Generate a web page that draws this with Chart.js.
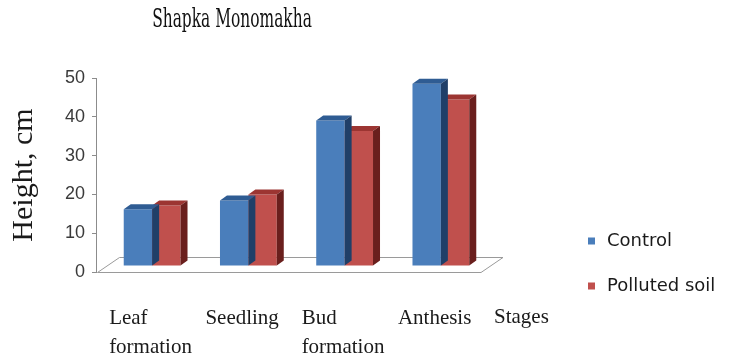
<!DOCTYPE html>
<html>
<head>
<meta charset="utf-8">
<script src="https://cdn.jsdelivr.net/npm/chart.js@4.4.1/dist/chart.umd.min.js"></script>
<style>
  html, body { margin: 0; padding: 0; background: #ffffff; }
  #wrap { width: 732px; height: 358px; position: relative; }
</style>
</head>
<body>
<div id="wrap"><canvas id="chart" width="732" height="358"></canvas></div>
<script>
// Plant height by growth stage, control vs polluted soil
const chartTitle = 'Shapka Monomakha';
const stages = [['Leaf', 'formation'], 'Seedling', ['Bud', 'formation'], 'Anthesis'];
const stageAxisName = 'Stages';
const seriesNames = ['Control', 'Polluted soil'];
const controlHeights = [14.6, 16.9, 37.5, 47.0];
const pollutedHeights = [15.6, 18.4, 34.8, 42.9];
const yTicks = [0, 10, 20, 30, 40, 50];

// face shades for the pseudo-3D columns
const faceColors = [
  { front: '#4a7ebb', top: '#2f5c93', side: '#203f68' },
  { front: '#c0504d', top: '#9c3532', side: '#6a1f1d' }
];

const depth = { shiftX: 8, shiftY: 6, barX: 7, barY: 5, floorX: 22, floorY: 15 };

const pseudo3d = {
  id: 'pseudo3d',
  beforeDatasetsDraw(chart) {
    const { ctx, chartArea: a } = chart;
    ctx.save();
    ctx.strokeStyle = '#9a9a9a';
    ctx.lineWidth = 1;
    ctx.beginPath();
    ctx.moveTo(a.left + 1.5, a.bottom + 0.5);
    ctx.lineTo(a.left + 1.5 + depth.floorX, a.bottom - depth.floorY + 0.5);
    ctx.lineTo(a.right + depth.floorX, a.bottom - depth.floorY + 0.5);
    ctx.lineTo(a.right, a.bottom + 0.5);
    ctx.closePath();
    ctx.stroke();
    ctx.restore();
  },
  beforeDatasetDraw(chart) {
    chart.ctx.save();
    chart.ctx.translate(depth.shiftX, -depth.shiftY);
  },
  afterDatasetDraw(chart, args) {
    const ctx = chart.ctx;
    const shade = faceColors[args.index];
    args.meta.data.forEach(bar => {
      const { x, y, base, width } = bar.getProps(['x', 'y', 'base', 'width'], true);
      const l = x - width / 2, r = x + width / 2;
      ctx.fillStyle = shade.top;
      ctx.beginPath();
      ctx.moveTo(l, y);
      ctx.lineTo(l + depth.barX, y - depth.barY);
      ctx.lineTo(r + depth.barX, y - depth.barY);
      ctx.lineTo(r, y);
      ctx.closePath();
      ctx.fill();
      ctx.fillStyle = shade.side;
      ctx.beginPath();
      ctx.moveTo(r, y);
      ctx.lineTo(r + depth.barX, y - depth.barY);
      ctx.lineTo(r + depth.barX, base - depth.barY);
      ctx.lineTo(r, base);
      ctx.closePath();
      ctx.fill();
    });
    ctx.restore();
  },
  afterDraw(chart) {
    const { ctx, chartArea: a } = chart;
    ctx.save();
    // title
    ctx.fillStyle = '#111';
    ctx.font = '26px "DejaVu Serif Condensed", "DejaVu Serif", serif';
    ctx.textAlign = 'center';
    ctx.textBaseline = 'alphabetic';
    ctx.save();
    ctx.translate(232, 27);
    ctx.scale(0.66, 1);
    ctx.fillText(chartTitle, 0, 0);
    ctx.restore();
    // category axis name
    ctx.font = '21px "Liberation Serif", "Times New Roman", serif';
    ctx.textAlign = 'left';
    ctx.fillStyle = '#1a1a1a';
    ctx.fillText(stageAxisName, a.right + 13, 323);
    // legend
    ctx.font = '18px "DejaVu Sans", sans-serif';
    ctx.textBaseline = 'middle';
    chart.data.datasets.forEach((ds, i) => {
      const cy = 241 + i * 45;
      ctx.fillStyle = ds.backgroundColor;
      ctx.fillRect(588, cy - 3.5, 7, 7);
      ctx.fillStyle = '#1a1a1a';
      ctx.fillText(ds.label, 607, cy);
    });
    ctx.restore();
  }
};

new Chart(document.getElementById('chart'), {
  type: 'bar',
  data: {
    labels: stages,
    datasets: [
      { label: seriesNames[0], data: controlHeights, backgroundColor: faceColors[0].front, clip: false },
      { label: seriesNames[1], data: pollutedHeights, backgroundColor: faceColors[1].front, clip: false }
    ]
  },
  options: {
    responsive: false,
    animation: false,
    events: [],
    layout: { padding: { top: 78, right: 251, bottom: 0, left: 0 } },
    datasets: { bar: { categoryPercentage: 0.59, barPercentage: 1.0, borderWidth: 0 } },
    plugins: { legend: { display: false }, title: { display: false }, tooltip: { enabled: false } },
    scales: {
      x: {
        afterFit(scale) { scale.height = 86; },
        grid: { display: false },
        border: { display: false },
        ticks: {
          align: 'start',
          labelOffset: -35,
          padding: 24,
          maxRotation: 0,
          autoSkip: false,
          color: '#1a1a1a',
          font: { family: '"Liberation Serif", "Times New Roman", serif', size: 21, lineHeight: 1.38 }
        }
      },
      y: {
        min: 0,
        max: 50,
        afterFit(scale) { scale.width = 96; },
        afterBuildTicks(scale) { scale.ticks = yTicks.map(v => ({ value: v })); },
        grid: { drawOnChartArea: false, drawTicks: true, tickLength: 4, color: '#8c8c8c' },
        border: { display: true, color: '#8c8c8c' },
        ticks: {
          padding: 7,
          color: '#3a3a3a',
          font: { family: '"Liberation Sans", Arial, sans-serif', size: 18 }
        },
        title: {
          display: true,
          text: 'Height, cm',
          color: '#1a1a1a',
          padding: { top: 6, bottom: 0 },
          font: { family: '"Liberation Serif", "Times New Roman", serif', size: 30 }
        }
      }
    }
  },
  plugins: [pseudo3d]
});
</script>
</body>
</html>
